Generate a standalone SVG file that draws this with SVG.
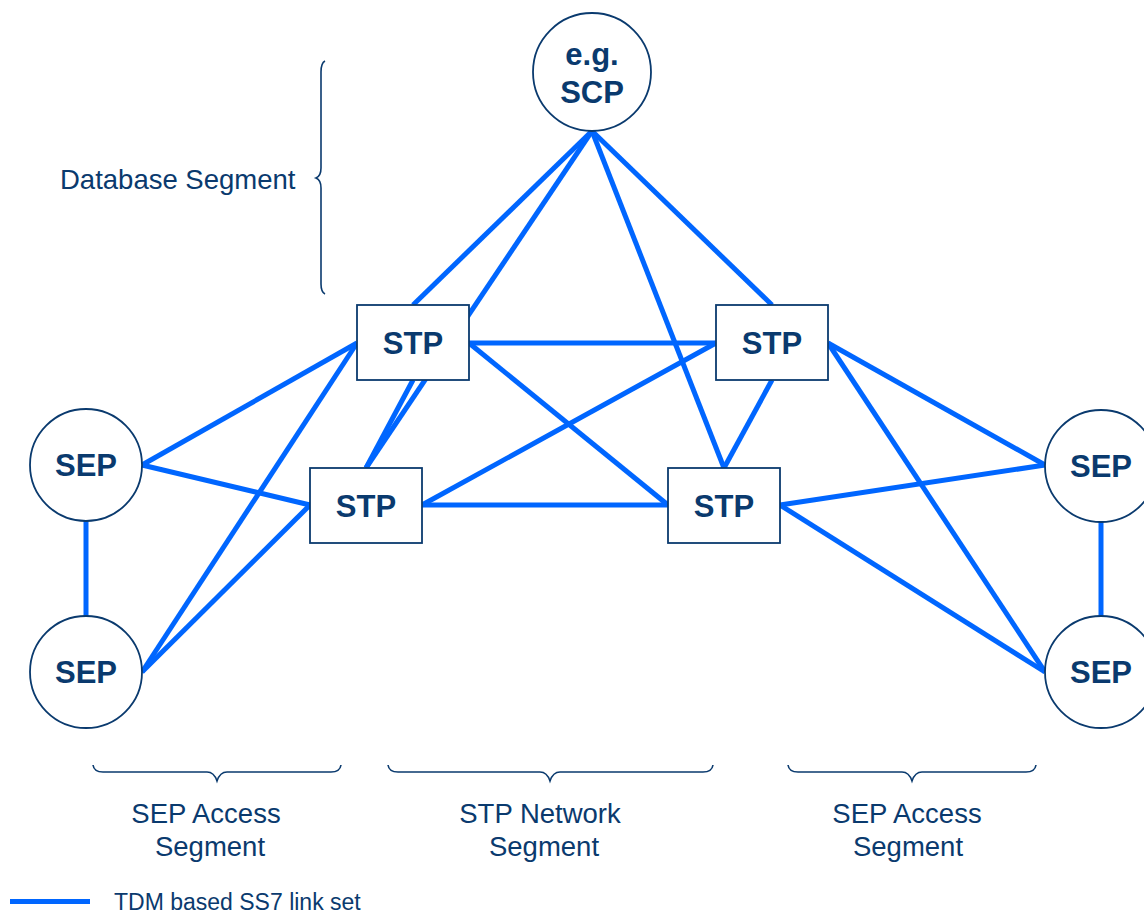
<svg xmlns="http://www.w3.org/2000/svg" width="1144" height="913" viewBox="0 0 1144 913">
<style>
.n{fill:#fff;stroke:#0a3a6e;stroke-width:1.8}
.lb{font-family:"Liberation Sans",Arial,sans-serif;font-weight:bold;font-size:31px;fill:#0a3a6e;text-anchor:middle}
.tx{font-family:"Liberation Sans",Arial,sans-serif;font-size:27.5px;fill:#0a3a6e}
.br{fill:none;stroke:#0a3a6e;stroke-width:1.6}
#links line{stroke:#0066ff;stroke-width:5;stroke-linecap:butt}
</style>
<rect width="1144" height="913" fill="#fff"/>
<g id="links">
<line x1="592" y1="131" x2="413" y2="305"/>
<line x1="592" y1="131" x2="366" y2="468"/>
<line x1="592" y1="131" x2="772" y2="305"/>
<line x1="592" y1="131" x2="724" y2="468"/>
<line x1="469" y1="343" x2="716" y2="343"/>
<line x1="469" y1="343" x2="668" y2="505"/>
<line x1="413" y1="380" x2="366" y2="468"/>
<line x1="357" y1="343" x2="142" y2="465"/>
<line x1="357" y1="343" x2="142" y2="672"/>
<line x1="716" y1="343" x2="422" y2="505"/>
<line x1="772" y1="380" x2="724" y2="468"/>
<line x1="828" y1="343" x2="1045" y2="465"/>
<line x1="828" y1="343" x2="1045" y2="672"/>
<line x1="422" y1="505" x2="668" y2="505"/>
<line x1="310" y1="505" x2="142" y2="465"/>
<line x1="310" y1="505" x2="142" y2="672"/>
<line x1="780" y1="505" x2="1045" y2="465"/>
<line x1="780" y1="505" x2="1045" y2="672"/>
<line x1="86" y1="518" x2="86" y2="619"/>
<line x1="1101" y1="518" x2="1101" y2="619"/>
</g>
<g id="scp"><circle class="n" cx="592" cy="72" r="59"/><text class="lb" x="592" y="65">e.g.</text><text class="lb" x="592" y="103">SCP</text></g>
<g id="stp1"><rect class="n" x="357" y="305" width="112" height="75"/><text class="lb" x="413" y="354">STP</text></g>
<g id="stp2"><rect class="n" x="716" y="305" width="112" height="75"/><text class="lb" x="772" y="354">STP</text></g>
<g id="stp3"><rect class="n" x="310" y="468" width="112" height="75"/><text class="lb" x="366" y="517">STP</text></g>
<g id="stp4"><rect class="n" x="668" y="468" width="112" height="75"/><text class="lb" x="724" y="517">STP</text></g>
<g id="sep1"><circle class="n" cx="86" cy="465" r="56"/><text class="lb" x="86" y="476">SEP</text></g>
<g id="sep2"><circle class="n" cx="86" cy="672" r="56"/><text class="lb" x="86" y="683">SEP</text></g>
<g id="sep3"><circle class="n" cx="1101" cy="466" r="56"/><text class="lb" x="1101" y="477">SEP</text></g>
<g id="sep4"><circle class="n" cx="1101" cy="672" r="56"/><text class="lb" x="1101" y="683">SEP</text></g>
<g id="db-brace">
<path class="br" d="M325,61 Q321,63 321,72 L321,168 Q321,176 316,178 Q321,180 321,188 L321,284 Q321,292 325,294"/>
<text class="tx" x="60" y="189">Database Segment</text>
</g>
<g id="seg-left">
<path class="br" d="M93,765 Q94,772 103,772 L207,772 Q214,772 217,781 Q220,772 227,772 L331,772 Q340,772 341,765"/>
<text class="tx" x="206" y="823" text-anchor="middle">SEP Access</text>
<text class="tx" x="210" y="856" text-anchor="middle">Segment</text>
</g>
<g id="seg-mid">
<path class="br" d="M388,765 Q389,772 398,772 L540,772 Q547,772 550,781 Q553,772 560,772 L703,772 Q712,772 713,765"/>
<text class="tx" x="540" y="823" text-anchor="middle">STP Network</text>
<text class="tx" x="544" y="856" text-anchor="middle">Segment</text>
</g>
<g id="seg-right">
<path class="br" d="M788,765 Q789,772 798,772 L902,772 Q909,772 912,781 Q915,772 922,772 L1026,772 Q1035,772 1036,765"/>
<text class="tx" x="907" y="823" text-anchor="middle">SEP Access</text>
<text class="tx" x="908" y="856" text-anchor="middle">Segment</text>
</g>
<g id="legend">
<line x1="10" y1="901.5" x2="90" y2="901.5" stroke="#0066ff" stroke-width="5"/>
<text class="tx" x="114" y="910" style="font-size:23px">TDM based SS7 link set</text>
</g>
</svg>
